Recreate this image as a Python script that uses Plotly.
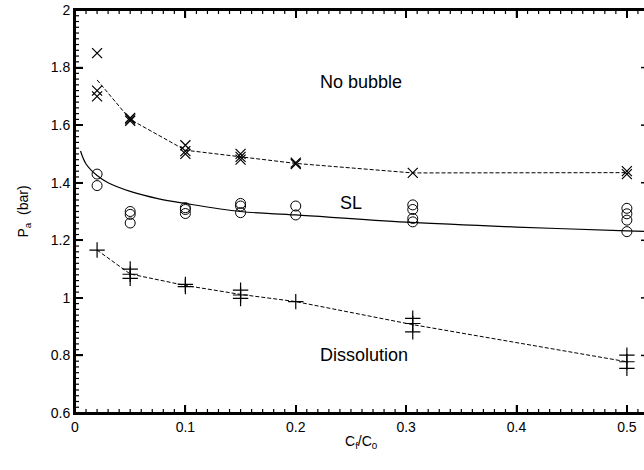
import plotly.graph_objects as go

# ---- data ----
x_pos = [0.02, 0.05, 0.1, 0.15, 0.2, 0.306, 0.5]

# No bubble boundary (x markers)
nb_x = [0.02, 0.02, 0.02, 0.05, 0.05, 0.05, 0.1, 0.1, 0.1, 0.15, 0.15, 0.15, 0.2, 0.2, 0.306, 0.5, 0.5]
nb_y = [1.85, 1.72, 1.70, 1.625, 1.62, 1.615, 1.53, 1.51, 1.50, 1.50, 1.49, 1.48, 1.47, 1.465, 1.434, 1.44, 1.43]
nb_line_y = [1.757, 1.62, 1.513, 1.49, 1.467, 1.434, 1.435]

# SL (circles) and fitted curve
sl_x = [0.02, 0.02, 0.05, 0.05, 0.05, 0.1, 0.1, 0.1, 0.15, 0.15, 0.15, 0.2, 0.2,
        0.306, 0.306, 0.306, 0.306, 0.5, 0.5, 0.5, 0.5]
sl_y = [1.43, 1.39, 1.30, 1.29, 1.26, 1.313, 1.307, 1.293, 1.328, 1.319, 1.296, 1.319, 1.288,
        1.323, 1.307, 1.276, 1.264, 1.311, 1.292, 1.270, 1.230]
sl_fit_x = [0.005, 0.01, 0.02, 0.03, 0.05, 0.075, 0.1, 0.15, 0.2, 0.3, 0.4, 0.5, 0.5155]
sl_fit_y = [1.51, 1.465, 1.425, 1.40, 1.37, 1.345, 1.328, 1.30, 1.288, 1.263, 1.246, 1.233, 1.231]

# Dissolution boundary (+ markers)
dis_x = [0.02, 0.05, 0.05, 0.05, 0.1, 0.1, 0.15, 0.15, 0.15, 0.2, 0.306, 0.306, 0.306, 0.5, 0.5, 0.5]
dis_y = [1.166, 1.10, 1.082, 1.068, 1.047, 1.039, 1.027, 1.01, 0.998, 0.987, 0.929, 0.911, 0.882,
         0.801, 0.778, 0.755]
dis_line_y = [1.166, 1.083, 1.043, 1.012, 0.987, 0.907, 0.778]

region_labels = ["No bubble", "SL", "Dissolution"]
region_x = [0.259, 0.25, 0.262]
region_y = [1.75, 1.33, 0.80]

# axis tick values
x_major = [0.0, 0.1, 0.2, 0.3, 0.4, 0.5]
x_minor = [round(i * 0.01, 2) for i in range(1, 52) if i % 10 != 0]
y_major = [0.6, 0.8, 1.0, 1.2, 1.4, 1.6, 1.8, 2.0]
y_minor = [round(0.6 + i * 0.02, 2) for i in range(1, 70) if i % 10 != 0]

FONT = "Liberation Sans, Arial, sans-serif"
DASH = "4px,2px"

fig = go.Figure()

fig.add_trace(go.Scatter(x=x_pos, y=nb_line_y, mode="lines",
                         line=dict(color="black", width=1, dash=DASH), hoverinfo="skip"))
fig.add_trace(go.Scatter(x=nb_x, y=nb_y, mode="markers",
                         marker=dict(symbol="x-thin", size=10, line=dict(color="black", width=1.2))))

fig.add_trace(go.Scatter(x=sl_fit_x, y=sl_fit_y, mode="lines", line_shape="spline",
                         line=dict(color="black", width=1.2), hoverinfo="skip"))
fig.add_trace(go.Scatter(x=sl_x, y=sl_y, mode="markers",
                         marker=dict(symbol="circle-open", size=10, color="black",
                                     line=dict(color="black", width=1))))

fig.add_trace(go.Scatter(x=x_pos, y=dis_line_y, mode="lines",
                         line=dict(color="black", width=1, dash=DASH), hoverinfo="skip"))
fig.add_trace(go.Scatter(x=dis_x, y=dis_y, mode="markers",
                         marker=dict(symbol="cross-thin", size=11, line=dict(color="black", width=1.2))))

# frame (left, bottom, top) drawn as shapes
K = "#000000"
fig.add_shape(type="line", xref="paper", yref="paper", x0=0, x1=0, y0=0, y1=1, line=dict(color=K, width=2))
fig.add_shape(type="line", xref="paper", yref="paper", x0=0, x1=1, y0=0, y1=0, line=dict(color=K, width=2))
fig.add_shape(type="line", xref="paper", yref="paper", x0=0, x1=1, y0=1, y1=1, line=dict(color=K, width=2))

MAJ_X, MIN_X = 8 / 403, 4 / 403   # tick lengths in paper units (vertical)
MAJ_Y, MIN_Y = 8 / 569, 4 / 569   # tick lengths in paper units (horizontal)
for t in x_major:
    for y0, y1 in [(0, MAJ_X), (1, 1 - MAJ_X)]:
        fig.add_shape(type="line", xref="x", yref="paper", x0=t, x1=t, y0=y0, y1=y1,
                      line=dict(color=K, width=1.5))
for t in x_minor:
    for y0, y1 in [(0, MIN_X), (1, 1 - MIN_X)]:
        fig.add_shape(type="line", xref="x", yref="paper", x0=t, x1=t, y0=y0, y1=y1,
                      line=dict(color=K, width=1.2))
for t in y_major:
    fig.add_shape(type="line", xref="paper", yref="y", x0=0, x1=MAJ_Y, y0=t, y1=t,
                  line=dict(color=K, width=1.5))
    fig.add_shape(type="line", xref="paper", yref="y", x0=1 - 3 / 569, x1=1, y0=t, y1=t,
                  line=dict(color=K, width=1.5))
for t in y_minor:
    fig.add_shape(type="line", xref="paper", yref="y", x0=0, x1=MIN_Y, y0=t, y1=t,
                  line=dict(color=K, width=1.2))

for t, xx, yy in zip(region_labels, region_x, region_y):
    fig.add_annotation(x=xx, y=yy, text=t, showarrow=False,
                       font=dict(family=FONT, size=18, color="black"))

fig.add_annotation(xref="paper", yref="paper", x=0.504, y=-0.099, text="C<sub>f</sub>/C<sub>0</sub>",
                   showarrow=False, font=dict(family=FONT, size=14, color="black"))
fig.add_annotation(xref="paper", yref="paper", x=-0.109, y=0.5, text="P<sub>a</sub>  (bar)",
                   textangle=-90, showarrow=False, font=dict(family=FONT, size=14, color="black"))

fig.update_layout(
    template="none",
    width=644, height=470,
    margin=dict(l=75, r=0, t=10, b=57),
    paper_bgcolor="white", plot_bgcolor="white",
    showlegend=False,
    font=dict(family=FONT, size=14, color="black"),
    xaxis=dict(range=[0, 0.5155], dtick=0.1, tick0=0, ticks="inside", ticklen=8, tickwidth=1.5,
               tickcolor=K, showline=True, linewidth=2, linecolor=K, mirror="ticks",
               showgrid=False, zeroline=False,
               tickfont=dict(family=FONT, size=14, color="black")),
    yaxis=dict(range=[0.6, 2.0], dtick=0.2, tick0=0.6, ticks="inside", ticklen=8, tickwidth=1.5,
               tickcolor=K, showline=True, linewidth=2, linecolor=K, mirror=False,
               showgrid=False, zeroline=False,
               tickfont=dict(family=FONT, size=14, color="black")),
)

fig.write_html("out.html", config={"displayModeBar": False},
               post_script="document.body.style.margin='0';")
